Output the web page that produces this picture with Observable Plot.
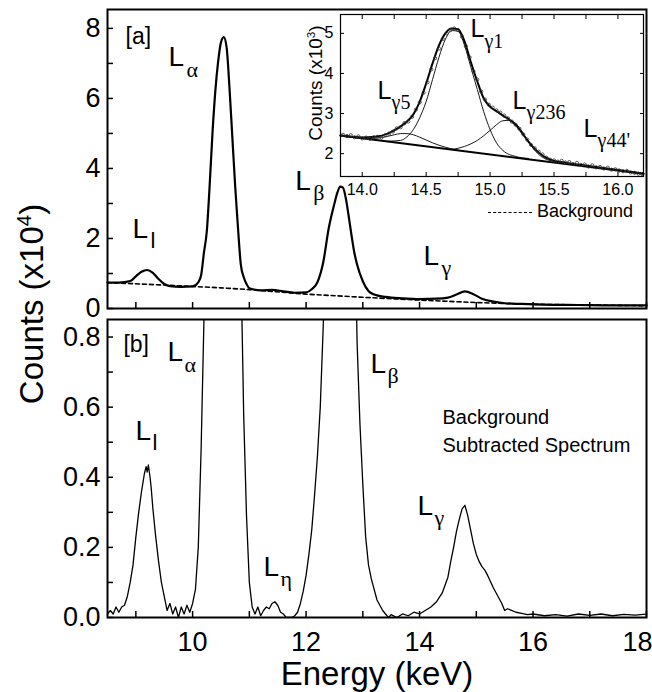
<!DOCTYPE html>
<html><head><meta charset="utf-8">
<script src="https://cdn.jsdelivr.net/npm/d3@7"></script>
<script src="https://cdn.jsdelivr.net/npm/@observablehq/plot@0.6"></script>
<style>
body{margin:0;background:#fff;}
#fig{position:relative;width:652px;height:692px;font-family:"Liberation Sans",Arial,sans-serif;color:#000;overflow:hidden;}
#fig svg{position:absolute;}
.htxt{position:absolute;white-space:nowrap;line-height:1;}
</style></head><body><div id="fig"></div>
<script>
// ---------- Panel [a]: raw spectrum (counts x10^4) ----------
const energyA = [8.5,8.7,8.9,9.0,9.1,9.2,9.3,9.4,9.5,9.6,9.8,10.0,10.1,10.15,10.2,10.25,10.3,10.35,10.4,10.45,10.5,10.55,10.6,10.65,10.7,10.75,10.8,10.85,10.9,10.95,11.0,11.2,11.4,11.6,11.8,12.0,12.1,12.2,12.3,12.4,12.5,12.55,12.6,12.65,12.7,12.75,12.8,12.85,12.9,13.0,13.1,13.2,13.4,13.7,14.0,14.3,14.5,14.65,14.8,14.95,15.1,15.3,15.5,15.8,16.2,16.8,17.4,18.0];
const countsA = [0.74,0.74,0.78,0.92,1.05,1.10,1.02,0.84,0.70,0.64,0.62,0.63,0.75,0.95,1.6,2.2,3.5,5.0,6.2,7.05,7.6,7.75,7.45,6.3,4.9,3.5,2.3,1.25,0.9,0.7,0.58,0.52,0.53,0.49,0.45,0.46,0.55,0.75,1.3,2.3,3.0,3.3,3.48,3.45,3.15,2.65,2.1,1.6,1.25,0.78,0.5,0.4,0.33,0.29,0.27,0.28,0.31,0.4,0.49,0.41,0.28,0.2,0.15,0.13,0.11,0.1,0.09,0.09];
const bgEnergyA = [8.5,9.5,10.5,11.0,12.0,13.0,14.0,15.0,16.0,17.0,18.0];
const bgCountsA = [0.74,0.67,0.59,0.54,0.41,0.32,0.24,0.17,0.12,0.10,0.08];

// ---------- Panel [b]: background-subtracted spectrum ----------
const energyB = [8.5,8.55,8.6,8.65,8.7,8.75,8.8,8.85,8.9,8.95,9.0,9.05,9.1,9.15,9.18,9.2,9.22,9.25,9.27,9.3,9.35,9.4,9.45,9.5,9.55,9.6,9.65,9.7,9.75,9.8,9.85,9.9,9.95,10.0,10.05,10.1,10.15,10.2,10.3,10.55,10.8,10.87,10.9,10.95,11.0,11.05,11.1,11.15,11.2,11.25,11.3,11.35,11.4,11.45,11.5,11.55,11.6,11.65,11.7,11.75,11.8,11.85,11.9,11.95,12.0,12.05,12.1,12.15,12.2,12.25,12.3,12.35,12.6,12.85,12.9,12.95,13.0,13.05,13.1,13.15,13.2,13.25,13.3,13.35,13.4,13.45,13.5,13.6,13.7,13.8,13.9,14.0,14.1,14.2,14.3,14.4,14.5,14.55,14.6,14.65,14.7,14.75,14.8,14.85,14.9,14.95,15.0,15.05,15.1,15.15,15.2,15.3,15.4,15.45,15.5,15.55,15.6,15.7,15.8,15.9,16.0,16.2,16.4,16.6,16.8,17.0,17.2,17.4,17.6,17.8,18.0];
const countsB = [0.01,0.02,0.01,0.03,0.015,0.03,0.035,0.06,0.1,0.15,0.23,0.3,0.36,0.41,0.43,0.415,0.435,0.4,0.37,0.31,0.23,0.16,0.1,0.06,0.02,0.04,0.01,0.03,0.0,0.03,0.01,0.035,0.015,0.04,0.08,0.2,0.48,0.85,2.7,7.15,1.8,0.85,0.58,0.29,0.1,0.03,0.01,0.03,0.005,0.02,0.03,0.025,0.04,0.045,0.035,0.015,0.01,0.0,0.0,0.0,0.005,0.015,0.04,0.075,0.12,0.18,0.25,0.35,0.46,0.6,0.82,1.1,3.0,1.2,0.78,0.55,0.38,0.23,0.15,0.11,0.08,0.05,0.035,0.02,0.01,0.0,0.008,0.0,0.01,0.005,0.015,0.01,0.02,0.03,0.045,0.07,0.115,0.16,0.2,0.245,0.28,0.31,0.32,0.29,0.25,0.21,0.18,0.16,0.145,0.135,0.12,0.085,0.055,0.04,0.02,0.025,0.022,0.015,0.012,0.008,0.01,0.005,0.008,0.004,0.01,0.006,0.01,0.005,0.009,0.007,0.01];

// ---------- Inset: L-gamma region (counts x10^3) ----------
const insetPtsE = [13.85,13.88,13.91,13.94,13.97,14.00,14.03,14.06,14.09,14.12,14.15,14.18,14.21,14.24,14.27,14.30,14.33,14.36,14.39,14.42,14.45,14.48,14.51,14.54,14.57,14.60,14.63,14.66,14.69,14.72,14.75,14.78,14.81,14.84,14.87,14.90,14.93,14.96,14.99,15.02,15.05,15.08,15.11,15.14,15.17,15.20,15.23,15.26,15.29,15.32,15.35,15.38,15.41,15.44,15.47,15.50,15.53,15.56,15.59,15.62,15.65,15.68,15.71,15.74,15.77,15.80,15.83,15.86,15.89,15.92,15.95,15.98,16.01,16.04,16.07,16.10,16.13,16.16,16.19];
const insetPtsV = [2.47,2.44,2.46,2.41,2.43,2.38,2.40,2.37,2.41,2.42,2.40,2.46,2.50,2.55,2.63,2.66,2.76,2.80,2.92,3.10,3.28,3.52,3.78,4.10,4.38,4.62,4.86,5.00,5.08,5.12,5.08,4.92,4.68,4.40,4.05,3.85,3.55,3.35,3.22,3.15,3.08,3.02,2.95,2.88,2.80,2.72,2.62,2.48,2.35,2.22,2.13,2.05,1.98,1.90,1.85,1.83,1.80,1.82,1.78,1.79,1.74,1.77,1.72,1.73,1.68,1.71,1.66,1.67,1.63,1.65,1.60,1.61,1.58,1.56,1.57,1.53,1.52,1.50,1.49];
const fitE = [13.83,14.0,14.1,14.2,14.25,14.3,14.35,14.4,14.45,14.5,14.55,14.6,14.65,14.7,14.75,14.8,14.85,14.9,14.95,15.0,15.05,15.1,15.15,15.2,15.25,15.3,15.35,15.4,15.45,15.5,15.6,15.8,16.0,16.2];
const fitV = [2.45,2.40,2.42,2.50,2.58,2.68,2.80,2.98,3.30,3.75,4.25,4.70,5.00,5.12,5.10,4.80,4.28,3.80,3.38,3.17,3.06,2.95,2.85,2.72,2.52,2.30,2.12,1.98,1.88,1.82,1.77,1.68,1.59,1.50];
const g5E = [13.95,14.05,14.15,14.25,14.3,14.35,14.4,14.45,14.5,14.55,14.6,14.65,14.7,14.75];
const g5V = [2.40,2.38,2.40,2.47,2.50,2.50,2.47,2.41,2.34,2.27,2.21,2.16,2.12,2.09];
const g1E = [14.2,14.3,14.35,14.4,14.45,14.5,14.55,14.6,14.65,14.7,14.75,14.8,14.85,14.9,14.95,15.0,15.05,15.1,15.2,15.3];
const g1V = [2.31,2.33,2.42,2.60,2.90,3.30,3.85,4.40,4.85,5.07,5.05,4.70,4.15,3.60,3.05,2.60,2.27,2.08,1.93,1.88];
const g236E = [14.7,14.8,14.9,15.0,15.05,15.1,15.15,15.2,15.25,15.3,15.35,15.4,15.45,15.5];
const g236V = [2.10,2.18,2.33,2.58,2.72,2.82,2.83,2.75,2.55,2.30,2.08,1.93,1.85,1.81];
const insetBgE = [13.83,16.2];
const insetBgV = [2.45,1.50];

// ---------- Ticks ----------
const xTickLabels = [10,12,14,16];
const xTickLabelLast = [18];
const xTicks = [9,10,11,12,13,14,15,16,17,18];
const yLabelsA = [0,2,4,6,8];
const yTicksA = [0,1,2,3,4,5,6,7,8];
const yLabelsB = [0,0.2,0.4,0.6,0.8];
const yTicksB = [0,0.1,0.2,0.3,0.4,0.5,0.6,0.7,0.8];
const insetXLabels = [14.0,14.5,15.0,15.5,16.0];
const insetXTicks = [14.0,14.25,14.5,14.75,15.0,15.25,15.5,15.75,16.0];
const insetYLabels = [2,3,4,5];

// ---------- Annotations ----------
const peakA = [
  {sub:"α", e:9.575, v:7.17, f:"serif"},
  {sub:"l", e:8.94, v:2.26, f:"sans"},
  {sub:"β", e:11.81, v:3.63, f:"serif"},
  {sub:"γ", e:14.07, v:1.49, f:"serif"}
];
const peakB = [
  {sub:"α", e:9.557, v:0.756, f:"serif"},
  {sub:"l", e:8.993, v:0.531, f:"sans"},
  {sub:"η", e:11.249, v:0.143, f:"serif"},
  {sub:"β", e:13.135, v:0.724, f:"serif"},
  {sub:"γ", e:13.963, v:0.317, f:"serif"}
];
const peakInset = [
  {sub:"γ5", e:14.12, v:3.57, f:"serif"},
  {sub:"γ1", e:14.847, v:5.096, f:"serif"},
  {sub:"γ236", e:15.176, v:3.325, f:"serif"},
  {sub:"γ44'", e:15.731, v:2.627, f:"serif"}
];
const panelTags = [{t:"[a]", e:8.817, v:7.76}];
const panelTagsB = [{t:"[b]", e:8.78, v:0.779}];
const noteB = [{t:"Background", e:14.404, v:0.570},{t:"Subtracted Spectrum", e:14.404, v:0.491}];

const sans = "'Liberation Sans', Arial, sans-serif";
const serif = "'Liberation Serif', 'Times New Roman', serif";
const zipXY = (xs, ys) => xs.map((e, i) => ({e, v: ys[i]}));

const fig = document.getElementById("fig");
const baseStyle = {fontFamily: sans, background: "transparent", color: "black", overflow: "visible"};

function peakMarks(data, Lsize, subSize, dx, dy) {
  return [
    Plot.text(data, {x: "e", y: "v", text: () => "L", textAnchor: "start", fontSize: Lsize, fontFamily: sans}),
    Plot.text(data.filter(d => d.f === "serif"), {x: "e", y: "v", text: "sub", textAnchor: "start", fontSize: subSize, fontFamily: serif, dx, dy}),
    Plot.text(data.filter(d => d.f === "sans"), {x: "e", y: "v", text: "sub", textAnchor: "start", fontSize: subSize, fontFamily: sans, dx, dy})
  ];
}

// Panel a
const plotA = Plot.plot({
  width: 652, height: 312,
  marginLeft: 107, marginRight: 6, marginTop: 9, marginBottom: 4,
  x: {domain: [8.5, 18]},
  y: {domain: [0, 8.54]},
  style: baseStyle,
  marks: [
    Plot.line(zipXY(bgEnergyA, bgCountsA), {x: "e", y: "v", stroke: "black", strokeWidth: 1.6, strokeDasharray: "4,3"}),
    Plot.line(zipXY(energyA, countsA), {x: "e", y: "v", stroke: "black", strokeWidth: 2.2, curve: "monotone-x"}),
    Plot.axisX({ticks: xTicks, tickSize: -6, fill: "none", label: null, strokeWidth: 1.5}),
    Plot.axisY({ticks: yTicksA, tickSize: -6, fill: "none", label: null, strokeWidth: 1.5}),
    Plot.axisY({ticks: yLabelsA, tickSize: 0, tickPadding: 7, stroke: "none", fontSize: 27, label: null}),
    Plot.frame({strokeWidth: 2}),
    ...peakMarks(peakA, 28, 22, 18, 12),
    Plot.text(panelTags, {x: "e", y: "v", text: "t", textAnchor: "start", fontSize: 23})
  ]
});
plotA.style.left = "0px"; plotA.style.top = "0px";
fig.appendChild(plotA);

// Panel b
const plotB = Plot.plot({
  width: 652, height: 380,
  marginLeft: 107, marginRight: 6, marginTop: 7, marginBottom: 75,
  x: {domain: [8.5, 18]},
  y: {domain: [0, 0.85]},
  style: baseStyle,
  marks: [
    Plot.line(zipXY(energyB, countsB), {x: "e", y: "v", stroke: "black", strokeWidth: 1.3, clip: true}),
    Plot.axisX({ticks: xTicks, tickSize: -6, fill: "none", label: null, strokeWidth: 1.5}),
    Plot.axisX({ticks: xTickLabels, tickSize: 0, tickPadding: 14, stroke: "none", fontSize: 27, label: null}),
    Plot.axisX({ticks: xTickLabelLast, tickSize: 0, tickPadding: 14, stroke: "none", fontSize: 27, label: null, dx: -9}),
    Plot.axisY({ticks: yTicksB, tickSize: -6, fill: "none", label: null, strokeWidth: 1.5}),
    Plot.axisY({ticks: yLabelsB, tickSize: 0, tickPadding: 7, stroke: "none", fontSize: 27, label: null, tickFormat: d3.format(".1f")}),
    Plot.frame({strokeWidth: 2}),
    ...peakMarks(peakB, 28, 22, 17, 12),
    Plot.text(panelTagsB, {x: "e", y: "v", text: "t", textAnchor: "start", fontSize: 23}),
    Plot.text(noteB, {x: "e", y: "v", text: "t", textAnchor: "start", fontSize: 20})
  ]
});
plotB.style.left = "0px"; plotB.style.top = "312px";
fig.appendChild(plotB);

// Inset
const plotI = Plot.plot({
  width: 357, height: 225,
  marginLeft: 45, marginRight: 9, marginTop: 14, marginBottom: 49,
  x: {domain: [13.83, 16.2]},
  y: {domain: [1.43, 5.47]},
  style: baseStyle,
  marks: [
    Plot.line(zipXY(insetBgE, insetBgV), {x: "e", y: "v", stroke: "black", strokeWidth: 2}),
    Plot.line(zipXY(g5E, g5V), {x: "e", y: "v", stroke: "black", strokeWidth: 0.9, curve: "monotone-x"}),
    Plot.line(zipXY(g1E, g1V), {x: "e", y: "v", stroke: "black", strokeWidth: 0.9, curve: "monotone-x"}),
    Plot.line(zipXY(g236E, g236V), {x: "e", y: "v", stroke: "black", strokeWidth: 0.9, curve: "monotone-x"}),
    Plot.line(zipXY(fitE, fitV), {x: "e", y: "v", stroke: "black", strokeWidth: 2, curve: "monotone-x"}),
    Plot.dot(zipXY(insetPtsE, insetPtsV), {x: "e", y: "v", r: 1.6, stroke: "#333", strokeWidth: 0.8, fill: "none"}),
    Plot.axisX({ticks: insetXTicks, tickSize: -4, fill: "none", label: null}),
    Plot.axisX({ticks: insetXTicks, anchor: "top", tickSize: -4, fill: "none", label: null}),
    Plot.axisY({ticks: insetYLabels, tickSize: -4, fill: "none", label: null}),
    Plot.axisY({ticks: insetYLabels, anchor: "right", tickSize: -4, fill: "none", label: null}),
    Plot.axisX({ticks: insetXLabels, tickSize: 0, tickPadding: 7, stroke: "none", fontSize: 16, label: null, tickFormat: d3.format(".1f")}),
    Plot.axisY({ticks: insetYLabels, tickSize: 0, tickPadding: 7, stroke: "none", fontSize: 16, label: null, tickFormat: d3.format("d")}),
    Plot.frame({strokeWidth: 1.2}),
    ...peakMarks(peakInset, 25, 20, 14, 12)
  ]
});
plotI.style.left = "295px"; plotI.style.top = "0px";
fig.appendChild(plotI);

// Titles and legend (HTML text)
const yTitle = document.createElement("div");
yTitle.className = "htxt";
yTitle.style.cssText = "left:31px;top:304px;font-size:33px;transform:translate(-50%,-50%) rotate(-90deg);";
yTitle.innerHTML = 'Counts (x10<span style="font-size:0.62em;position:relative;top:-0.6em">4</span>)';
fig.appendChild(yTitle);

const insetTitle = document.createElement("div");
insetTitle.className = "htxt";
insetTitle.style.cssText = "left:315px;top:83px;font-size:19px;transform:translate(-50%,-50%) rotate(-90deg);";
insetTitle.innerHTML = 'Counts (x10<span style="font-size:0.62em;position:relative;top:-0.6em">3</span>)';
fig.appendChild(insetTitle);

const xTitle = document.createElement("div");
xTitle.className = "htxt";
xTitle.style.cssText = "left:377px;top:657px;font-size:33px;transform:translateX(-50%);";
xTitle.textContent = "Energy (keV)";
fig.appendChild(xTitle);

const legend = document.createElement("div");
legend.className = "htxt";
legend.style.cssText = "left:488px;top:202px;font-size:18px;";
legend.innerHTML = '<span style="display:inline-block;width:44px;border-top:1.5px dashed #000;vertical-align:middle;margin-right:5px"></span>Background';
fig.appendChild(legend);
</script>
</body></html>
